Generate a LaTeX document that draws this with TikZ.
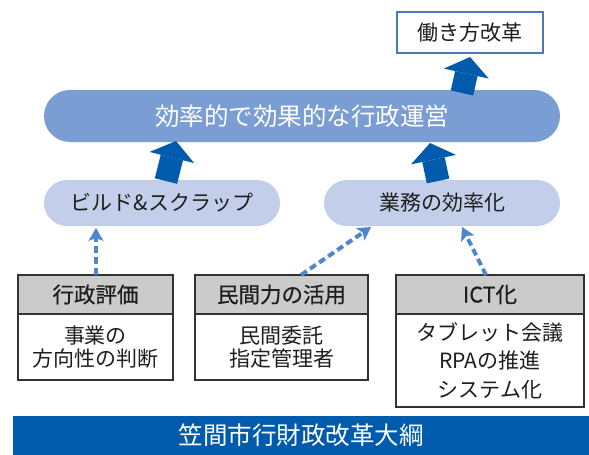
\documentclass[tikz,border=0pt]{standalone}
\usepackage{fontspec}
\setmainfont{Noto Sans CJK JP}
\newfontfamily\hdrfont[FakeBold=0.6]{Noto Sans CJK JP}
\usetikzlibrary{arrows.meta,calc}
\definecolor{pillA}{HTML}{7A9ED3}
\definecolor{pillB}{HTML}{C3CFEA}
\definecolor{darkblue}{HTML}{005BAC}
\definecolor{dashblue}{HTML}{4F86CF}
\definecolor{boxblue}{HTML}{4B78BE}
\definecolor{hdrgray}{HTML}{CBCBCB}
\definecolor{txt}{HTML}{1E1E1E}
\definecolor{edge}{HTML}{333333}
\begin{document}
\begin{tikzpicture}[x=1pt,y=-1pt,
  pillmain/.style={fill=pillA, rounded corners=26pt, minimum width=516pt, minimum height=52pt, inner sep=0pt, text=white, font=\fontsize{24.5}{28}\selectfont},
  pillsub/.style={fill=pillB, rounded corners=23pt, minimum width=236pt, minimum height=46pt, inner sep=0pt, text=txt, font=\fontsize{21}{25}\selectfont},
  goalbox/.style={draw=boxblue, line width=2.5pt, fill=white, minimum width=146pt, minimum height=41pt, inner sep=0pt, text=txt, font=\fontsize{21}{25}\selectfont},
  hdrbox/.style={draw=edge, line width=1.3pt, fill=hdrgray, minimum height=39pt, inner sep=0pt, text=txt, font=\hdrfont\fontsize{21.5}{25}\selectfont},
  bodybox/.style={draw=edge, line width=1.3pt, fill=white, inner sep=0pt, text=txt, align=center},
  bar/.style={fill=darkblue, minimum width=576pt, minimum height=39pt, inner sep=0pt, text=white, font=\fontsize{24.5}{28}\selectfont},
  bigarrow/.style={draw=darkblue, line width=23pt, -{Triangle[width=46pt,length=17pt,line width=0pt]}},
  dasharrow/.style={draw=dashblue, line width=4pt, dash pattern=on 7pt off 4pt, -{Stealth[length=13pt,width=15pt,inset=3pt,line width=0pt]}}
]
\useasboundingbox (0,0) rectangle (589,455);

% pills and goal
\node[goalbox] (goal) at (470,32.5) {働き方改革};
\node[pillmain] (main) at (302,116) {効率的で効果的な行政運営};
\node[pillsub] (bs) at (162,203) {ビルド\&スクラップ};
\node[pillsub] (eff) at (442,203) {業務の効率化};

% bottom boxes
\node[bodybox, minimum width=155pt, minimum height=66pt, font=\fontsize{21}{23.5}\selectfont] (b1) at (95.5,347) {事業の\\方向性の判断};
\node[hdrbox, minimum width=155pt] (h1) at (95.5,294.5) {行政評価};
\node[bodybox, minimum width=173pt, minimum height=66pt, font=\fontsize{21}{23.5}\selectfont] (b2) at (281.5,347) {民間委託\\指定管理者};
\node[hdrbox, minimum width=173pt] (h2) at (281.5,294.5) {民間力の活用};
\node[bodybox, minimum width=188pt, minimum height=93pt, font=\fontsize{21}{28.5}\selectfont] (b3) at (490,360.5) {タブレット会議\\RPAの推進\\システム化};
\node[hdrbox, minimum width=188pt] (h3) at (490,294.5) {ICT化};

\node[bar] (title) at (301,435.5) {笠間市行財政改革大綱};

% big arrows
\coordinate (a1s) at (462,93);
\coordinate (a1e) at (470,57);
\coordinate (a2s) at (166,181);
\coordinate (a2e) at (176,141);
\coordinate (a3s) at (438,181);
\coordinate (a3e) at (430,143);
\draw[bigarrow] (a1s) -- (a1e);
\draw[bigarrow] (a2s) -- (a2e);
\draw[bigarrow] (a3s) -- (a3e);

% dashed arrows
\coordinate (d1s) at (96,275);
\coordinate (d1e) at (96,228);
\coordinate (d2s) at (301,275);
\coordinate (d2e) at (371,227);
\coordinate (d3s) at (486,275);
\coordinate (d3e) at (462,227);
\draw[dasharrow] (d1s) -- (d1e);
\draw[dasharrow] (d2s) -- (d2e);
\draw[dasharrow] (d3s) -- (d3e);
\end{tikzpicture}
\end{document}
